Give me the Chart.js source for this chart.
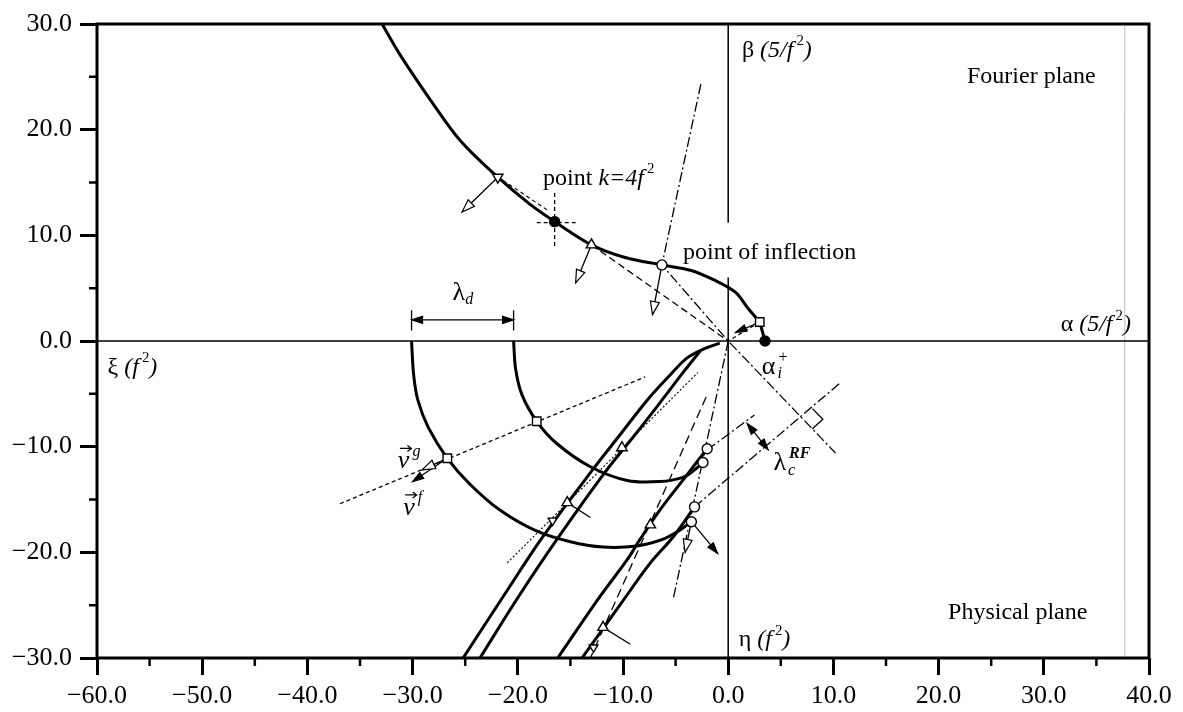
<!DOCTYPE html>
<html>
<head>
<meta charset="utf-8">
<script src="https://cdn.jsdelivr.net/npm/chart.js@4.4.1/dist/chart.umd.min.js"></script>
<style>
  html, body { margin: 0; padding: 0; background: #fff; }
  #wrap { width: 1183px; height: 712px; }
</style>
</head>
<body>
<div id="wrap"><canvas id="chart" width="1183" height="712"></canvas></div>
<script>
// ---- ticks ----
var xTickValues = [-60, -50, -40, -30, -20, -10, 0, 10, 20, 30, 40];
var yTickValues = [-30, -20, -10, 0, 10, 20, 30];
var xMinorTicks = [-55, -45, -35, -25, -15, -5, 5, 15, 25, 35];
var yMinorTicks = [-25, -15, -5, 5, 15, 25];

// ---- Fourier plane ----
var fourierCurve = [[-32.9, 30], [-31.2, 27.1], [-28.3, 22.8], [-25.5, 19.0], [-21.9, 15.5], [-18.8, 12.9],
  [-16.5, 11.3], [-13.0, 9.1], [-9.8, 7.9], [-6.3, 7.2], [-3.6, 6.7], [-1.4, 5.8], [0.7, 4.6], [1.8, 3.2], [3.0, 1.8]];
var fourierTail = [[3.0, 1.8], [3.5, 0]];

// ---- Physical plane ----
var outerArc = [[-30.1, 0], [-29.9, -3.2], [-29.5, -5.6], [-28.5, -8.2], [-26.7, -11.1], [-24.5, -13.6], [-21.7, -16.0],
  [-18.4, -17.9], [-15.0, -19.0], [-11.9, -19.5], [-8.7, -19.4], [-6.3, -18.8], [-4.6, -17.9], [-3.5, -17.1]];
var innerArc = [[-20.4, 0], [-20.2, -2.7], [-19.6, -5.1], [-18.2, -7.6], [-16.3, -9.7], [-13.1, -11.9], [-9.6, -13.2],
  [-6.5, -13.3], [-4.3, -12.9], [-3.2, -12.2], [-2.4, -11.5]];
var rayA = [[-25.2, -30], [-21.2, -23.9], [-17.6, -18.5], [-12.9, -12.2], [-10.3, -8.9], [-7.7, -5.6], [-5.5, -3.2],
  [-3.9, -1.6], [-2.2, -0.7], [-0.8, -0.2]];
var rayB = [[-23.6, -30], [-20.0, -24.3], [-16.3, -18.8], [-11.7, -12.4], [-8.8, -8.8], [-6.3, -5.6], [-4.3, -3.0], [-2.7, -1.0]];
var rayC = [[-16.2, -30], [-12.2, -24.2], [-9.6, -20.7], [-8.4, -18.8], [-6.5, -16.0], [-4.1, -12.9], [-2.0, -10.2]];
var rayD = [[-13.9, -30], [-10.3, -25.0], [-7.4, -21.0], [-5.2, -18.5], [-3.2, -15.7]];

// ---- axes inside the frame ----
var alphaAxis = [[-60, 0], [40, 0]];
var betaAxisTop = [[0, 30], [0, 11.2]];
var betaAxisBottom = [[0, 6.0], [0, -30]];
var scanLine = [[37.7, -30], [37.7, 30]];

// ---- construction lines ----
var tangentK = [[-21.4, 15.2], [-17.2, 12.4]];
var crossH = [[-18.2, 11.2], [-14.5, 11.2]];
var crossV = [[-16.5, 14.0], [-16.5, 8.9]];
var triToOrigin = [[-13.0, 9.1], [0, 0]];
var squareToOrigin = [[3.0, 1.8], [0, 0]];
var alphaLine = [[-2.6, 24.3], [-6.3, 7.2], [0, 0], [10.2, -10.6]];
var squaresLine = [[-36.9, -15.4], [-7.9, -3.4]];
var dottedRay = [[-21.0, -21.0], [-2.9, -3.0]];
var dashedRay = [[-2.1, -5.3], [-13.1, -30]];
var circleRay = [[0, 0], [-5.2, -24.3]];
var perp1 = [[-3.2, -15.7], [10.6, -4.0]];
var perp2 = [[-2.0, -10.3], [2.5, -7.0]];
var rightAngle = [[8.0, -8.3], [9.0, -7.4], [8.0, -6.4]];
var lambdaCBar = [[1.8, -7.8], [3.8, -10.3]];
var lambdaDBar = [[-30.1, 2.0], [-20.4, 2.0]];
var lambdaDCapL = [[-30.1, 2.9], [-30.1, 1.0]];
var lambdaDCapR = [[-20.4, 2.9], [-20.4, 1.0]];
var stubs = [[[-15.3, -15.3], [-13.1, -16.7]], [[-11.9, -27.1], [-9.3, -28.7]]];

// ---- arrows (start, end) ----
var arrowsOpen = [
  [[-21.9, 15.5], [-25.3, 12.2]],
  [[-13.0, 9.1], [-14.5, 5.5]],
  [[-6.3, 7.2], [-7.2, 2.5]],
  [[-26.7, -11.1], [-29.1, -12.2]],
  [[-3.5, -17.1], [-4.1, -20.0]]
];
var arrowsFilled = [
  [[3.0, 1.8], [0.7, 0.8]],
  [[-26.7, -11.1], [-30.0, -13.3]],
  [[-3.5, -17.1], [-1.0, -20.1]]
];

// ---- markers ----
var triDown = [[-21.9, 15.5]];
var triDownSmall = [[-16.7, -17.0], [-12.8, -29.0]];
var triUp = [[-13.0, 9.1], [-10.1, -10.1], [-15.3, -15.3], [-7.4, -17.4], [-11.9, -27.1]];
var openCircles = [[-6.3, 7.2], [-2.0, -10.2], [-2.4, -11.5], [-3.2, -15.7], [-3.5, -17.1]];
var openSquares = [[3.0, 1.8], [-26.7, -11.1], [-18.2, -7.6]];
var filledDots = [[-16.5, 11.3], [3.5, 0]];

// ---- texts ----
// flags: i = italic, B = bold, ^ = superscript, _ = subscript, < = same x as previous part, v = vector arrow
var texts = [
  { x: 1.3, y: 27.5, size: 24, parts: [['\u03b2', ''], [' (5/f', 'i'], ['2', '^'], [')', 'i']] },
  { x: 31.6, y: 1.5, size: 24, parts: [['\u03b1', ''], [' (5/f', 'i'], ['2', '^'], [')', 'i']] },
  { x: -59.0, y: -2.5, size: 24, parts: [['\u03be', ''], [' (f', 'i'], ['2', '^'], [')', 'i']] },
  { x: 1.0, y: -28.3, size: 24, parts: [['\u03b7', ''], [' (f', 'i'], ['2', '^'], [')', 'i']] },
  { x: 22.7, y: 25.0, size: 24, parts: [['Fourier plane', '']] },
  { x: 20.9, y: -25.7, size: 24, parts: [['Physical plane', '']] },
  { x: -17.6, y: 15.4, size: 24, parts: [['point ', ''], ['k=4f', 'i'], ['2', '^']] },
  { x: -4.3, y: 8.4, size: 24, parts: [['point of inflection', '']] },
  { x: -26.2, y: 4.5, size: 26, parts: [['\u03bb', ''], ['d', '_i']] },
  { x: 3.2, y: -2.5, size: 26, parts: [['\u03b1', ''], ['+', '^'], ['i', '_i<']] },
  { x: 4.3, y: -11.6, size: 26, parts: [['\u03bb', ''], ['RF', '^iB'], ['c', '_i<']] },
  { x: -31.4, y: -11.4, size: 26, parts: [['v', 'iv'], ['g', '^i']] },
  { x: -30.9, y: -15.8, size: 26, parts: [['v', 'iv'], ['f', '^i']] }
];

function pts(a) { return a.map(function (p) { return { x: p[0], y: p[1] }; }); }

function line(a, opt) {
  return Object.assign({
    data: pts(a), showLine: true, borderColor: '#000', borderWidth: 1.3,
    pointRadius: 0, fill: false, tension: 0, order: 2
  }, opt || {});
}

function marks(a, style, r, opt) {
  return Object.assign({
    data: pts(a), showLine: false, pointStyle: style, pointRadius: r,
    pointBackgroundColor: '#fff', pointBorderColor: '#000', pointBorderWidth: 1.4, order: 0
  }, opt || {});
}

var DASH = [7, 4], DASHDOT = [10, 3, 2, 3], DOT = [2, 2], SHORT = [4, 3];
var datasets = [];

// thick curves
[fourierCurve, outerArc, innerArc, rayA, rayB, rayC, rayD].forEach(function (c) {
  datasets.push(line(c, { borderWidth: 3, tension: 0.35 }));
});
datasets.push(line(fourierTail, { borderWidth: 3 }));

// axes
datasets.push(line(alphaAxis, { borderWidth: 1.5 }));
datasets.push(line(betaAxisTop, { borderWidth: 1.5 }));
datasets.push(line(betaAxisBottom, { borderWidth: 1.5 }));
datasets.push(line(scanLine, { borderWidth: 1, borderColor: '#bbb' }));

// construction lines
datasets.push(line(tangentK, { borderDash: SHORT, borderWidth: 1.1 }));
datasets.push(line(crossH, { borderDash: SHORT }));
datasets.push(line(crossV, { borderDash: SHORT }));
datasets.push(line(triToOrigin, { borderDash: DASH }));
datasets.push(line(squareToOrigin, { borderDash: SHORT }));
datasets.push(line(alphaLine, { borderDash: DASHDOT }));
datasets.push(line(squaresLine, { borderDash: SHORT }));
datasets.push(line(dottedRay, { borderDash: DOT, borderWidth: 1.1 }));
datasets.push(line(dashedRay, { borderDash: [9, 5] }));
datasets.push(line(circleRay, { borderDash: DASHDOT }));
datasets.push(line(perp1, { borderDash: DASHDOT }));
datasets.push(line(perp2, { borderDash: DASHDOT }));
datasets.push(line(rightAngle, { borderWidth: 1.3 }));
datasets.push(line(lambdaCBar, { borderWidth: 1.3, arrowHead: 'both' }));
datasets.push(line(lambdaDBar, { borderWidth: 1.3, arrowHead: 'both' }));
datasets.push(line(lambdaDCapL, { borderWidth: 1.3 }));
datasets.push(line(lambdaDCapR, { borderWidth: 1.3 }));
stubs.forEach(function (s) { datasets.push(line(s, { borderWidth: 1.3 })); });

arrowsOpen.forEach(function (a) { datasets.push(line(a, { borderWidth: 1.3, arrowHead: 'open' })); });
arrowsFilled.forEach(function (a) { datasets.push(line(a, { borderWidth: 1.3, arrowHead: 'filled' })); });

// markers
datasets.push(marks(triDown, 'triangle', 6, { pointRotation: 180 }));
datasets.push(marks(triDownSmall, 'triangle', 5, { pointRotation: 180 }));
datasets.push(marks(triUp, 'triangle', 6));
datasets.push(marks(openCircles, 'circle', 5));
datasets.push(marks(openSquares, 'rect', 6));
datasets.push(marks(filledDots, 'circle', 5, { pointBackgroundColor: '#000' }));

function fmt(v) { return v.toFixed(1).replace('-', '\u2212'); }

function head(ctx, tip, from, kind) {
  var dx = tip.x - from.x, dy = tip.y - from.y;
  var len = Math.sqrt(dx * dx + dy * dy) || 1;
  var ux = dx / len, uy = dy / len;
  var L = kind === 'open' ? 13 : 11, W = kind === 'open' ? 4.5 : 3.5;
  var bx = tip.x - ux * L, by = tip.y - uy * L;
  ctx.beginPath();
  ctx.moveTo(tip.x, tip.y);
  ctx.lineTo(bx - uy * W, by + ux * W);
  ctx.lineTo(bx + uy * W, by - ux * W);
  ctx.closePath();
  ctx.fillStyle = kind === 'open' ? '#fff' : '#000';
  ctx.fill();
  ctx.lineWidth = 1.2;
  ctx.strokeStyle = '#000';
  ctx.stroke();
}

var arrowPlugin = {
  id: 'arrows',
  afterDatasetsDraw: function (chart) {
    var ctx = chart.ctx;
    ctx.save();
    chart.data.datasets.forEach(function (ds, i) {
      if (!ds.arrowHead) return;
      var p = chart.getDatasetMeta(i).data;
      var n = p.length;
      if (ds.arrowHead === 'both') {
        head(ctx, p[n - 1], p[0], 'filled');
        head(ctx, p[0], p[n - 1], 'filled');
      } else {
        head(ctx, p[n - 1], p[n - 2], ds.arrowHead);
      }
    });
    ctx.restore();
  }
};

var framePlugin = {
  id: 'frame',
  afterDraw: function (chart) {
    var ctx = chart.ctx, a = chart.chartArea;
    var xs = chart.scales.x, ys = chart.scales.y;
    ctx.save();
    ctx.strokeStyle = '#000';
    ctx.lineWidth = 3;
    ctx.strokeRect(a.left, a.top, a.right - a.left, a.bottom - a.top);
    ctx.lineWidth = 2.5;
    ctx.beginPath();
    xMinorTicks.forEach(function (v) {
      var px = xs.getPixelForValue(v);
      ctx.moveTo(px, a.bottom); ctx.lineTo(px, a.bottom + 8);
    });
    yMinorTicks.forEach(function (v) {
      var py = ys.getPixelForValue(v);
      ctx.moveTo(a.left, py); ctx.lineTo(a.left - 8, py);
    });
    ctx.stroke();
    ctx.restore();
  }
};

var textPlugin = {
  id: 'texts',
  afterDraw: function (chart) {
    var ctx = chart.ctx, xs = chart.scales.x, ys = chart.scales.y;
    ctx.save();
    ctx.fillStyle = '#000';
    ctx.strokeStyle = '#000';
    ctx.textBaseline = 'middle';
    ctx.textAlign = 'left';
    texts.forEach(function (t) {
      var cx = xs.getPixelForValue(t.x), y = ys.getPixelForValue(t.y), prev = cx;
      t.parts.forEach(function (p) {
        var s = p[0], f = p[1], sz = t.size, dy = 0;
        if (f.indexOf('^') >= 0) { sz = t.size * 0.62; dy = -t.size * 0.38; cx += 3; }
        if (f.indexOf('_') >= 0) { sz = t.size * 0.62; dy = t.size * 0.26; }
        if (f.indexOf('<') >= 0) cx = prev - 1;
        ctx.font = (f.indexOf('i') >= 0 ? 'italic ' : '') + (f.indexOf('B') >= 0 ? 'bold ' : '') +
          sz + 'px "Liberation Serif"';
        ctx.fillText(s, cx, y + dy);
        var w = ctx.measureText(s).width;
        if (f.indexOf('v') >= 0) {
          var ay = y - sz * 0.5;
          ctx.lineWidth = 1.2;
          ctx.beginPath();
          ctx.moveTo(cx + 2, ay); ctx.lineTo(cx + w + 2, ay);
          ctx.moveTo(cx + w - 2, ay - 3); ctx.lineTo(cx + w + 2, ay); ctx.lineTo(cx + w - 2, ay + 3);
          ctx.stroke();
        }
        prev = cx;
        cx += w;
      });
    });
    ctx.restore();
  }
};

var tickFont = { family: 'Liberation Serif', size: 26 };

new Chart(document.getElementById('chart'), {
  type: 'scatter',
  data: { datasets: datasets },
  options: {
    responsive: false,
    animation: false,
    layout: { padding: { top: 24, right: 34, left: 0, bottom: 0 } },
    plugins: { legend: { display: false }, tooltip: { enabled: false } },
    scales: {
      x: {
        type: 'linear', min: -60, max: 40,
        afterBuildTicks: function (s) { s.ticks = xTickValues.map(function (v) { return { value: v }; }); },
        afterFit: function (s) { s.height = 54; },
        border: { display: false },
        grid: { drawOnChartArea: false, drawTicks: true, tickLength: 17, tickWidth: 3, tickColor: '#000' },
        ticks: { font: tickFont, color: '#000', padding: 6, maxRotation: 0, autoSkip: false, callback: fmt }
      },
      y: {
        type: 'linear', min: -30, max: 30,
        afterBuildTicks: function (s) { s.ticks = yTickValues.map(function (v) { return { value: v }; }); },
        afterFit: function (s) { s.width = 97; },
        border: { display: false },
        grid: { drawOnChartArea: false, drawTicks: true, tickLength: 17, tickWidth: 3, tickColor: '#000' },
        ticks: { font: tickFont, color: '#000', padding: 8, autoSkip: false, callback: fmt }
      }
    }
  },
  plugins: [framePlugin, arrowPlugin, textPlugin]
});
</script>
</body>
</html>
